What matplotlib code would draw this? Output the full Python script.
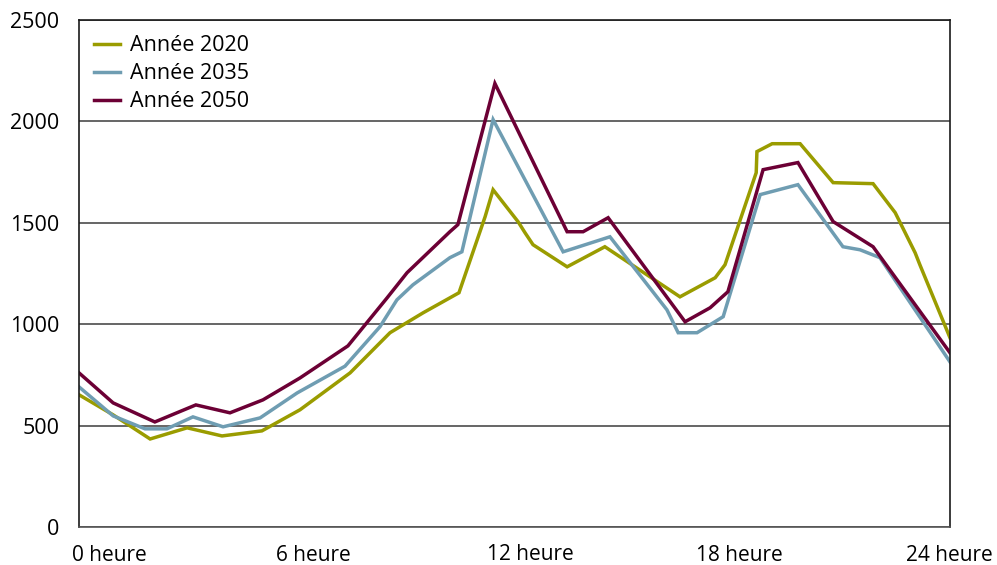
import matplotlib
matplotlib.use("Agg")
import matplotlib.pyplot as plt
import matplotlib.transforms as mtrans
from matplotlib.transforms import blended_transform_factory

plt.rcParams['font.family'] = ['Open Sans', 'DejaVu Sans']

# ---- data (hours, values) ----
x_2020 = [0, 0.94, 1.96, 2.98, 3.94, 5.04, 6.09, 7.47, 8.57, 9.48, 10.47, 11.19, 11.41,
          12.10, 12.29, 12.51, 13.45, 14.49, 16.56, 17.53, 17.80, 18.66, 18.68, 19.10,
          19.87, 20.78, 21.88, 22.49, 23.04, 23.17, 24]
y_2020 = [652, 553, 434, 489, 449, 474, 578, 760, 958, 1056, 1155, 1530, 1663,
          1505, 1451, 1392, 1283, 1382, 1135, 1229, 1293, 1747, 1851, 1890,
          1890, 1698, 1693, 1550, 1352, 1293, 933]

x_2035 = [0, 0.94, 1.82, 2.42, 3.14, 3.97, 4.99, 6.01, 7.33, 8.29, 8.76, 9.20, 10.22,
          10.55, 11.41, 13.34, 14.63, 16.20, 16.51, 17.03, 17.75, 18.77, 19.81, 21.05,
          21.52, 22.07, 24]
y_2035 = [691, 548, 484, 484, 543, 494, 538, 661, 793, 987, 1120, 1194, 1328,
          1357, 2009, 1357, 1431, 1071, 958, 958, 1037, 1639, 1688, 1382,
          1367, 1328, 814]

x_2050 = [0, 0.94, 2.09, 3.22, 4.16, 5.07, 6.09, 7.41, 8.49, 9.04, 10.22, 10.44, 11.46,
          13.45, 13.89, 14.58, 16.70, 17.39, 17.88, 18.85, 19.81, 20.78, 21.88, 24]
y_2050 = [760, 612, 518, 602, 563, 627, 735, 893, 1130, 1254, 1456, 1491, 2187,
          1456, 1456, 1525, 1012, 1081, 1160, 1762, 1797, 1506, 1382, 859]

series_labels = ['Année 2020', 'Année 2035', 'Année 2050']
x_tick_labels = ['0 heure', '6 heure', '12 heure', '18 heure', '24 heure']
y_ticks = [0, 500, 1000, 1500, 2000, 2500]

# ---- layout / style ----
x_label_pos = [0.85, 6.45, 12.45, 18.2, 23.97]
x_label_dy = [0, 0, 1.5, 0, 0]
colors = ['#9a9c00', '#6f9db2', '#6c0035']

fig = plt.figure(figsize=(9.97, 5.65), dpi=100)
ax = fig.add_axes([79 / 997, 38 / 565, (950 - 79) / 997, (527 - 20) / 565])

for xs, ys, c, lab in zip([x_2020, x_2035, x_2050], [y_2020, y_2035, y_2050], colors, series_labels):
    ax.plot(xs, ys, color=c, lw=2.5, label=lab, solid_joinstyle='miter')

ax.set_xlim(0, 24)
ax.set_ylim(0, 2500)
ax.set_yticks(y_ticks)
ax.set_yticklabels([str(v) for v in y_ticks], fontsize=15.5)
ax.tick_params(axis='y', length=0, pad=14)
ax.set_xticks([])
ax.grid(axis='y', color='#3c3c3c', lw=1.1)
ax.set_axisbelow(True)
for s in ['left', 'right', 'top']:
    ax.spines[s].set_color('#1a1a1a')
    ax.spines[s].set_linewidth(1.2)
ax.spines['bottom'].set_color('#555555')
ax.spines['bottom'].set_linewidth(1.2)

trans = blended_transform_factory(ax.transData, ax.transAxes)
for pos, lab, dy in zip(x_label_pos, x_tick_labels, x_label_dy):
    off = mtrans.offset_copy(trans, fig=fig, x=0, y=dy, units='dots')
    ax.text(pos, -0.057, lab, transform=off, ha='center', va='center', fontsize=15, clip_on=False)

ax.legend(loc='upper left', frameon=False, fontsize=15.5, handlelength=1.2,
          handletextpad=0.45, labelspacing=0.33, borderaxespad=0.3,
          bbox_to_anchor=(0.0, 1.0))

fig.savefig('out.png', dpi=100)
